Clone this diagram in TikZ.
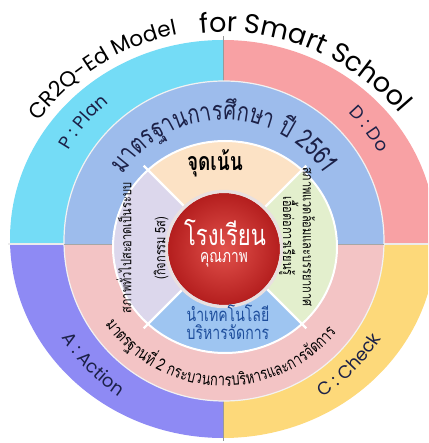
\documentclass[tikz,border=0pt]{standalone}
\usepackage{fontspec}
\usetikzlibrary{decorations.text}
\newfontfamily\thaifont[Script=Thai, FakeStretch=0.76]{Loma}
\newfontfamily\latinfont{Poppins}
\definecolor{plancol}{HTML}{74DCF6}
\definecolor{docol}{HTML}{F8A1A4}
\definecolor{actcol}{HTML}{8E8AF4}
\definecolor{chkcol}{HTML}{FDD97A}
\definecolor{stdtop}{HTML}{9DBCEC}
\definecolor{stdbot}{HTML}{F3C4C5}
\definecolor{focuscol}{HTML}{FCE2C5}
\definecolor{leftsec}{HTML}{DCD7EC}
\definecolor{rightsec}{HTML}{E3EFCD}
\definecolor{botsec}{HTML}{9EC5F1}
\definecolor{navy}{HTML}{1C2148}
\definecolor{techblue}{HTML}{1E4E9C}
\definecolor{redin}{HTML}{E2524C}
\definecolor{redout}{HTML}{B41E1E}
\definecolor{rimcol}{HTML}{E9E0E0}
\newcommand\ttlA{\latinfont\fontsize{21.5}{25}\selectfont}
\newcommand\ttlB{\latinfont\fontsize{27}{32}\selectfont}
\newcommand\mylbl{\latinfont\fontsize{18}{22}\selectfont}
\newcommand\stdA{\thaifont\fontsize{26.5}{30}\selectfont}
\newcommand\stdB{\thaifont\fontsize{17}{20}\selectfont}
\tikzset{
  arctext/.style={decorate, decoration={text along path, text align=center, text color=#1}},
  arctext/.default=navy,
  sidetext/.style={font=\thaifont\fontsize{14.5}{17}\selectfont, text=black, inner sep=0pt},
}
\begin{document}
\begin{tikzpicture}[x=1pt,y=1pt]
\useasboundingbox (-223,-202) rectangle (205,241);
\begin{scope}
\clip (-223,-202) rectangle (205,241);
% outer ring quadrants
\begin{scope}
\clip (0,2) ellipse [x radius=213, y radius=199];
\fill[plancol] (-230,-3) rectangle (0,250);
\fill[docol] (0,-3) rectangle (230,250);
\fill[actcol] (-230,-210) rectangle (0,-3);
\fill[chkcol] (0,-210) rectangle (230,-3);
\end{scope}
\draw[gray!80, line width=0.8] (0,150) -- (0,205);
\draw[gray!80, line width=0.8] (0,-150) -- (0,-200);
\draw[white!85!gray, line width=1.2] (-215,-3) -- (-150,-3);
\draw[white!85!gray, line width=1.2] (150,-3) -- (215,-3);
% standard ring
\begin{scope}
\clip (1,0) circle [radius=160];
\fill[stdtop] (-170,-3) rectangle (170,170);
\fill[stdbot] (-170,-170) rectangle (170,-3);
\end{scope}
\draw[white!90!gray, line width=1.2] (1,0) circle [radius=160];
\draw[gray!70, line width=0.8] (-159,-3) -- (-105,-3);
\draw[gray!70, line width=0.8] (110,-3) -- (161,-3);
% inner ring sectors
\begin{scope}
\clip (2,-6) ellipse [x radius=112, y radius=106];
\fill[focuscol] (2,-6) -- (202,194) -- (-198,194) -- cycle;
\fill[rightsec] (2,-6) -- (202,194) -- (202,-206) -- cycle;
\fill[botsec] (2,-6) -- (202,-206) -- (-198,-206) -- cycle;
\fill[leftsec] (2,-6) -- (-198,-206) -- (-198,194) -- cycle;
\end{scope}
\foreach \a in {45,135,225,315}
  \draw[white, line width=2.2] (2,-6) -- +(\a:115);
\draw[white, line width=2] (2,-6) ellipse [x radius=112, y radius=106];
% centre
\shade[inner color=redin, outer color=redout] (1,-8) circle [radius=56];
\draw[rimcol, line width=3.2] (1,-8) circle [radius=57.6];
\end{scope}
% title
\path[arctext=black, decoration={text={|\ttlA|CR2Q-Ed Model}}]
  (0,-21) ++(152:232) arc[start angle=152, end angle=92, radius=232];
\path[arctext=black, decoration={text={|\ttlB|for Smart School}}]
  (0,-23) ++(108:232) arc[start angle=108, end angle=28, radius=232];
% PDCA labels
\path[arctext, decoration={text={|\mylbl|P : Plan}}]
  (0,2) ++(170:178) arc[start angle=170, end angle=110, radius=178];
\path[arctext, decoration={text={|\mylbl|D : Do}}]
  (0,2) ++(67:178) arc[start angle=67, end angle=7, radius=178];
\path[arctext, decoration={text={|\mylbl|A : Action}}]
  (0,2) ++(194:189) arc[start angle=194, end angle=254, radius=189];
\path[arctext, decoration={text={|\mylbl|C : Check}}]
  (0,2) ++(285:187) arc[start angle=285, end angle=345, radius=187];
% standard ring texts
\path[arctext, decoration={text={|\stdA|{มา}{ต}{ร}{ฐา}{น}{กา}{ร}{ศึ}{ก}{ษา} {ปี} 2561}}]
  (1,0) ++(175:121) arc[start angle=175, end angle=5, radius=121];
\path[arctext=black, decoration={text={|\stdB|{มา}{ต}{ร}{ฐา}{น}{ที่} 2 {ก}{ร}{ะ}{บ}{ว}{น}{กา}{ร}{บ}{ริ}{ห}{า}{ร}{แ}{ล}{ะ}{กา}{ร}{จั}{ด}{กา}{ร}}}]
  (1,0) ++(193:145) arc[start angle=193, end angle=343, radius=145];
% inner texts
\node[font=\thaifont\bfseries\fontsize{25}{28}\selectfont, text=black] (focus) at (-8,78) {จุดเน้น};
\node[font=\thaifont\fontsize{29}{31}\selectfont, text=white, anchor=base] (school) at (2,-5) {โรงเรียน};
\node[font=\thaifont\fontsize{18}{20}\selectfont, text=white, anchor=base] (quality) at (1,-22) {คุณภาพ};
\node[font=\thaifont\fontsize{18.5}{17.5}\selectfont, text=techblue, align=center] (tech) at (5,-81) {นำเทคโนโลยี\\บริหารจัดการ};
\node[sidetext, rotate=90] (leftA) at (-99,-7) {สภาพทั่วไปสะอาดเป็นระบบ};
\node[sidetext, rotate=90] (leftB) at (-62,-7) {(กิจกรรม 5ส)};
\node[sidetext, rotate=-90] (rightA) at (86,4) {สภาพแวดล้อมและบรรยากาศ};
\node[sidetext, rotate=-90] (rightB) at (66,5) {เอื้อต่อการเรียนรู้};
\end{tikzpicture}
\end{document}
